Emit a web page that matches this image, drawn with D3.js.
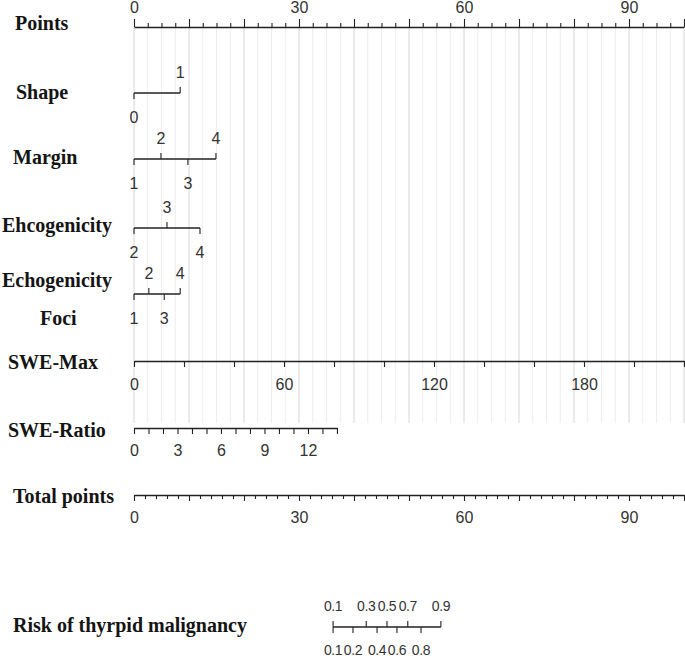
<!DOCTYPE html>
<html>
<head>
<meta charset="utf-8">
<script src="https://cdn.jsdelivr.net/npm/d3@7"></script>
<style>
  html, body { margin: 0; padding: 0; background: #fff; }
  svg { display: block; }
</style>
</head>
<body>
<div id="nomogram"></div>
<script>
'use strict';

const width = 685;
const height = 658;

// predictor levels and the points each level is worth
const shapeLevels = ["0", "1"];
const shapePoints = [0, 8.4];
const marginLevels = ["1", "2", "3", "4"];
const marginPoints = [0, 4.9, 9.8, 14.9];
const ehcoLevels = ["2", "3", "4"];
const ehcoPoints = [0, 6.0, 12.0];
const echoLevels = ["1", "2", "3", "4"];
const echoPoints = [0, 2.7, 5.5, 8.4];

// continuous predictors
const sweMaxDomain = [0, 220];
const sweMaxTicks = d3.range(0, 221, 20);
const sweMaxLabels = [0, 60, 120, 180];
const sweRatioDomain = [0, 14];
const sweRatioMaxPoints = 36.9;
const sweRatioTicks = d3.range(0, 15, 1);
const sweRatioLabels = [0, 3, 6, 9, 12];

// points / total points scales
const pointsDomain = [0, 100];
const pointsTicks = d3.range(0, 100.1, 2.5);
const pointsLabels = [0, 30, 60, 90];
const totalTicks = d3.range(0, 101, 2);
const totalLabels = [0, 30, 60, 90];

// risk axis (logistic on total points)
const riskCentre = 46;      // total points at p = 0.5
const riskSlope = 4.46;     // points per logit unit
const riskUp = [0.1, 0.3, 0.5, 0.7, 0.9];
const riskDown = [0.1, 0.2, 0.4, 0.6, 0.8];

const svg = d3.select("#nomogram").append("svg")
    .attr("width", width)
    .attr("height", height);

svg.append("rect").attr("width", width).attr("height", height).attr("fill", "#fff");

const x = d3.scaleLinear(pointsDomain, [134, 684]);

const rowY = {
    points: 27, shape: 93, margin: 159, ehco: 228, echo: 294,
    sweMax: 361, sweRatio: 428, total: 495, risk: 627
};

const tickFont = "'Liberation Sans', Arial, sans-serif";
const tickSize = 16;
const tickColor = "#333";
const lineColor = "#222";

// grid lines behind the predictor rows
svg.append("g")
    .selectAll("line")
    .data(pointsTicks)
    .join("line")
    .attr("x1", d => x(d)).attr("x2", d => x(d))
    .attr("y1", rowY.points + 1).attr("y2", 423)
    .attr("stroke", d => d % 10 === 0 ? "#d6d6d6" : "#ededed")
    .attr("stroke-width", 1);

// row labels
const rowLabels = [
    { text: "Points", x: 15, y: 30 },
    { text: "Shape", x: 16, y: 99 },
    { text: "Margin", x: 13, y: 164 },
    { text: "Ehcogenicity", x: 2, y: 232 },
    { text: "Echogenicity", x: 2, y: 287 },
    { text: "Foci", x: 40, y: 325 },
    { text: "SWE-Max", x: 8, y: 369 },
    { text: "SWE-Ratio", x: 8, y: 437 },
    { text: "Total points", x: 13, y: 503 },
    { text: "Risk of thyrpid malignancy", x: 13, y: 632 }
];
svg.append("g")
    .selectAll("text")
    .data(rowLabels)
    .join("text")
    .attr("x", d => d.x)
    .attr("y", d => d.y)
    .attr("font-family", "'Liberation Serif', 'Times New Roman', serif")
    .attr("font-weight", "bold")
    .attr("font-size", 20)
    .attr("fill", "#141414")
    .text(d => d.text);

function styleAxis(g) {
    g.select(".domain").attr("stroke", lineColor).attr("stroke-width", 1.3);
    g.selectAll(".tick line").attr("stroke", lineColor).attr("stroke-width", 1.1);
    g.selectAll(".tick text")
        .attr("font-family", tickFont)
        .attr("font-size", tickSize)
        .attr("fill", tickColor);
}

// Points axis on top
const ptsAxis = svg.append("g")
    .attr("transform", `translate(0,${rowY.points})`)
    .call(d3.axisTop(x)
        .tickValues(pointsTicks)
        .tickSize(4)
        .tickSizeOuter(0)
        .tickPadding(10)
        .tickFormat(d => pointsLabels.includes(d) ? d : ""));
ptsAxis.selectAll(".tick line").filter(d => d % 10 === 0).attr("y2", -8);
styleAxis(ptsAxis);

// categorical predictor with alternating labels (below, above, below ...)
function categoricalRow(levels, pts, y) {
    const g = svg.append("g").attr("transform", `translate(0,${y})`);
    g.append("line")
        .attr("x1", x(d3.min(pts))).attr("x2", x(d3.max(pts)))
        .attr("stroke", lineColor).attr("stroke-width", 1.3);
    const items = levels.map((l, i) => ({ label: l, p: pts[i], up: i % 2 === 1 }));
    g.selectAll("line.tk")
        .data(items)
        .join("line")
        .attr("class", "tk")
        .attr("x1", d => x(d.p)).attr("x2", d => x(d.p))
        .attr("y1", 0).attr("y2", d => d.up ? -6 : 6)
        .attr("stroke", lineColor).attr("stroke-width", 1.1);
    g.selectAll("text")
        .data(items)
        .join("text")
        .attr("x", d => x(d.p))
        .attr("y", d => d.up ? -15 : 30)
        .attr("text-anchor", "middle")
        .attr("font-family", tickFont)
        .attr("font-size", tickSize)
        .attr("fill", tickColor)
        .text(d => d.label);
}

categoricalRow(shapeLevels, shapePoints, rowY.shape);
categoricalRow(marginLevels, marginPoints, rowY.margin);
categoricalRow(ehcoLevels, ehcoPoints, rowY.ehco);
categoricalRow(echoLevels, echoPoints, rowY.echo);

// SWE-Max
const sweMaxScale = d3.scaleLinear(sweMaxDomain, [x(0), x(100)]);
const sweMaxAxis = svg.append("g")
    .attr("transform", `translate(0,${rowY.sweMax})`)
    .call(d3.axisBottom(sweMaxScale)
        .tickValues(sweMaxTicks)
        .tickSize(6)
        .tickSizeOuter(0)
        .tickPadding(12)
        .tickFormat(d => sweMaxLabels.includes(d) ? d : ""));
styleAxis(sweMaxAxis);

// SWE-Ratio
const sweRatioScale = d3.scaleLinear(sweRatioDomain, [x(0), x(sweRatioMaxPoints)]);
const sweRatioAxis = svg.append("g")
    .attr("transform", `translate(0,${rowY.sweRatio})`)
    .call(d3.axisBottom(sweRatioScale)
        .tickValues(sweRatioTicks)
        .tickSize(6)
        .tickSizeOuter(0)
        .tickPadding(11)
        .tickFormat(d => sweRatioLabels.includes(d) ? d : ""));
styleAxis(sweRatioAxis);

// Total points
const totalAxis = svg.append("g")
    .attr("transform", `translate(0,${rowY.total})`)
    .call(d3.axisBottom(x)
        .tickValues(totalTicks)
        .tickSize(4)
        .tickSizeOuter(0)
        .tickPadding(13)
        .tickFormat(d => totalLabels.includes(d) ? d : ""));
totalAxis.selectAll(".tick line").filter(d => d % 10 === 0).attr("y2", 6);
styleAxis(totalAxis);

// Risk axis
const riskToPoints = p => riskCentre + riskSlope * Math.log(p / (1 - p));
const riskG = svg.append("g").attr("transform", `translate(0,${rowY.risk})`);
const allRisk = riskUp.concat(riskDown);
riskG.append("line")
    .attr("x1", x(riskToPoints(d3.min(allRisk))))
    .attr("x2", x(riskToPoints(d3.max(allRisk))))
    .attr("stroke", lineColor).attr("stroke-width", 1.3);
const riskItems = riskUp.map(p => ({ p, up: true }))
    .concat(riskDown.map(p => ({ p, up: false })));
riskG.selectAll("line.tk")
    .data(riskItems)
    .join("line")
    .attr("class", "tk")
    .attr("x1", d => x(riskToPoints(d.p))).attr("x2", d => x(riskToPoints(d.p)))
    .attr("y1", 0).attr("y2", d => d.up ? -6 : 6)
    .attr("stroke", lineColor).attr("stroke-width", 1.1);
riskG.selectAll("text")
    .data(riskItems)
    .join("text")
    .attr("x", d => x(riskToPoints(d.p)))
    .attr("y", d => d.up ? -16 : 28)
    .attr("text-anchor", "middle")
    .attr("font-family", tickFont)
    .attr("font-size", 14)
    .attr("letter-spacing", -0.4)
    .attr("fill", tickColor)
    .text(d => d.p);
</script>
</body>
</html>
